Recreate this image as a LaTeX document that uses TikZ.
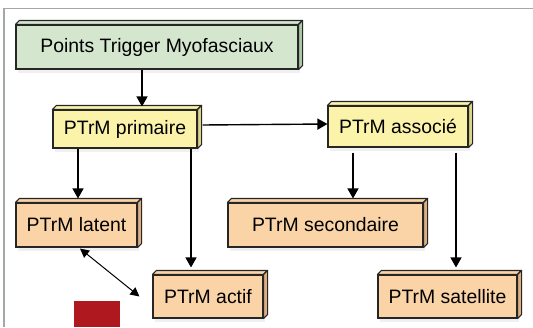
\documentclass[tikz,border=0pt]{standalone}
\usepackage{fontspec}
\setmainfont{Liberation Sans}
\usetikzlibrary{arrows.meta}
\usetikzlibrary{shadows}
\definecolor{greenfront}{HTML}{D5E6CF}
\definecolor{greenside}{HTML}{A9C9A1}
\definecolor{yellowfront}{HTML}{FAF3A9}
\definecolor{yellowside}{HTML}{DCD48A}
\definecolor{orangefront}{HTML}{FAD3A7}
\definecolor{orangeside}{HTML}{DDAE80}
\definecolor{framegray}{HTML}{A3AAA3}
\definecolor{redmark}{HTML}{B01820}
\tikzstyle{ptbox}=[draw=black!85, line width=1.1pt, inner sep=0pt, font=\fontsize{19.4}{22}\selectfont, drop shadow={opacity=0.12, shadow xshift=2pt, shadow yshift=-4pt}]
\tikzstyle{link}=[line width=1.4pt, -{Triangle[length=10pt,width=11pt]}]
\tikzstyle{duallink}=[line width=1pt, {Triangle[length=9pt,width=9pt]}-{Triangle[length=9pt,width=9pt]}]

\begin{document}
\begin{tikzpicture}[x=1pt, y=-1pt]
          \useasboundingbox (0,0) rectangle (533,327);
          \draw[framegray, line width=1.3pt] (4,327) -- (4,8.5) -- (533,8.5);
          \node[ptbox, fill=greenfront, minimum width=282pt, minimum height=44pt] (pts) at (157,47) {Points Trigger Myofasciaux};
          \node[ptbox, fill=yellowfront, minimum width=144pt, minimum height=38pt] (prim) at (125,129) {PTrM primaire};
          \node[ptbox, fill=yellowfront, minimum width=140pt, minimum height=41pt] (assoc) at (398,126.5) {PTrM associé};
          \node[ptbox, fill=orangefront, minimum width=121pt, minimum height=44pt] (latent) at (76.5,225) {PTrM latent};
          \node[ptbox, fill=orangefront, minimum width=195pt, minimum height=44pt] (second) at (325.5,225) {PTrM secondaire};
          \node[ptbox, fill=orangefront, minimum width=110pt, minimum height=43pt] (actif) at (208,296.5) {PTrM actif};
          \node[ptbox, fill=orangefront, minimum width=139pt, minimum height=43pt] (satel) at (447.5,296.5) {PTrM satellite};
          \foreach \n/\f/\s in {pts/greenfront/greenside, prim/yellowfront/yellowside, assoc/yellowfront/yellowside,
              latent/orangefront/orangeside, second/orangefront/orangeside, actif/orangefront/orangeside, satel/orangefront/orangeside}
          {
            \filldraw[draw=black!85, line width=1.1pt, line join=round, fill=\f]
              (\n.north west) -- ++(4,-4) -- ([shift={(4,-4)}]\n.north east) -- (\n.north east) -- cycle;
            \filldraw[draw=black!85, line width=1.1pt, line join=round, fill=\s]
              (\n.north east) -- ++(4,-4) -- ([shift={(4,-4)}]\n.south east) -- (\n.south east) -- cycle;
          }
          \draw[link] ([xshift=-15pt]pts.south) -- ([xshift=17pt, yshift=3pt]prim.north);
          \draw[link] ([xshift=5pt, yshift=4pt]prim.east) -- ([yshift=2.5pt]assoc.west);
          \draw[link] ([xshift=-47pt]prim.south) -- ([xshift=1.5pt, yshift=4pt]latent.north);
          \draw[link] ([xshift=66pt]prim.south) -- ([xshift=-17pt, yshift=7pt]actif.north);
          \draw[link] ([xshift=-45pt, yshift=-5pt]assoc.south) -- ([xshift=27.5pt, yshift=4pt]second.north);
          \draw[link] ([xshift=58pt, yshift=-5pt]assoc.south) -- ([xshift=8.5pt, yshift=7pt]satel.north);
          \draw[duallink] ([xshift=3.5pt, yshift=-1pt]latent.south) -- ([xshift=-13pt]actif.west);
          \fill[redmark] (74,301) rectangle (120,327);
        \end{tikzpicture}
\end{document}
